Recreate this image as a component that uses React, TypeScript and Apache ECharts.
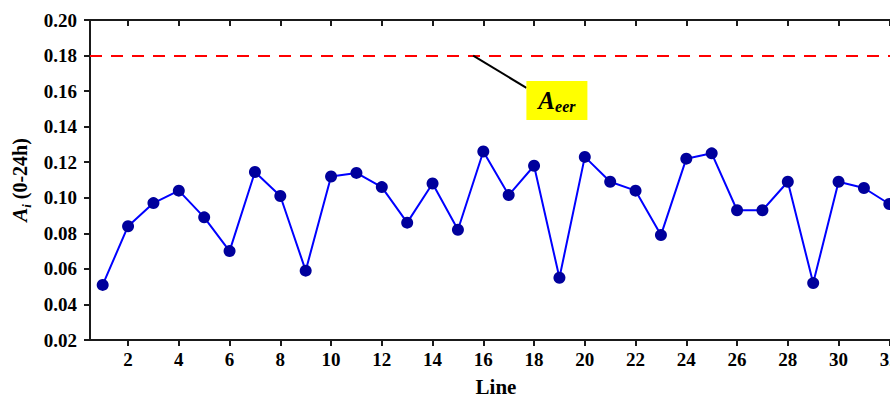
import React, { useEffect, useRef } from "react";
import * as echarts from "echarts";

const lines = [1, 2, 3, 4, 5, 6, 7, 8, 9, 10, 11, 12, 13, 14, 15, 16, 17, 18, 19, 20, 21, 22, 23, 24, 25, 26, 27, 28, 29, 30, 31, 32];
const aValues = [0.051, 0.084, 0.097, 0.104, 0.089, 0.070, 0.1145, 0.101, 0.059, 0.112, 0.114, 0.106, 0.086, 0.108, 0.082, 0.126, 0.1015, 0.118, 0.055, 0.123, 0.109, 0.104, 0.079, 0.122, 0.125, 0.093, 0.093, 0.109, 0.052, 0.109, 0.1055, 0.0965];
const xTicks = [2, 4, 6, 8, 10, 12, 14, 16, 18, 20, 22, 24, 26, 28, 30, 32];
const yTicks = [0.02, 0.04, 0.06, 0.08, 0.1, 0.12, 0.14, 0.16, 0.18, 0.2];
const aEer = 0.18;
const leaderFrom = [15.6, 0.18];
const leaderTo = [17.7, 0.1618];
const boxAt = [18.9, 0.1547];

const FONT = "Liberation Serif";

export default function App() {
  const ref = useRef<HTMLDivElement>(null);
  useEffect(() => {
    const chart = echarts.init(ref.current!, null, { renderer: "svg" });
    const axisColor = "#1a1a1a";
    chart.setOption({
      animation: false,
      backgroundColor: "#ffffff",
      textStyle: { fontFamily: FONT },
      grid: { left: 90, right: -12, top: 20, bottom: 58, containLabel: false, outerBoundsMode: "none" },
      xAxis: [
        {
          type: "value",
          min: 0.5,
          max: 32.5,
          position: "bottom",
          name: "Line",
          nameLocation: "middle",
          nameGap: 36,
          nameTextStyle: { fontFamily: FONT, fontWeight: "bold", fontSize: 21, color: "#000" },
          axisLine: { show: true, onZero: false, lineStyle: { color: axisColor, width: 2 } },
          axisTick: { show: true, inside: false, length: 6, customValues: xTicks, lineStyle: { color: axisColor, width: 2 } },
          axisLabel: { customValues: xTicks, margin: 10, fontFamily: FONT, fontWeight: "bold", fontSize: 19, color: "#000" },
          splitLine: { show: false },
        },
        {
          type: "value",
          min: 0.5,
          max: 32.5,
          position: "top",
          axisLine: { show: true, onZero: false, lineStyle: { color: axisColor, width: 2 } },
          axisTick: { show: true, inside: true, length: 6, customValues: xTicks, lineStyle: { color: axisColor, width: 2 } },
          axisLabel: { show: false },
          splitLine: { show: false },
        },
      ],
      yAxis: {
        type: "value",
        min: 0.02,
        max: 0.2,
        name: "{a|A}{s|i}{b| (0-24h)}",
        nameLocation: "middle",
        nameGap: 54,
        nameTextStyle: {
          fontFamily: FONT,
          fontWeight: "bold",
          fontSize: 20,
          color: "#000",
          rich: {
            a: { fontFamily: FONT, fontStyle: "italic", fontWeight: "bold", fontSize: 21, color: "#000" },
            s: { fontFamily: FONT, fontStyle: "italic", fontWeight: "bold", fontSize: 13, color: "#000", padding: [12, 0, 0, 0] },
            b: { fontFamily: FONT, fontWeight: "bold", fontSize: 20, color: "#000" },
          },
        },
        axisLine: { show: true, onZero: false, lineStyle: { color: axisColor, width: 2 } },
        axisTick: { show: true, inside: false, length: 6, customValues: yTicks, lineStyle: { color: axisColor, width: 2 } },
        axisLabel: {
          customValues: yTicks,
          margin: 13,
          fontFamily: FONT,
          fontWeight: "bold",
          fontSize: 19,
          color: "#000",
          formatter: (v: number) => v.toFixed(2),
        },
        splitLine: { show: false },
      },
      series: [
        {
          type: "line",
          data: lines.map((x, i) => [x, aValues[i]]),
          symbol: "circle",
          symbolSize: 12,
          lineStyle: { color: "#0000ff", width: 2 },
          itemStyle: { color: "#00009c" },
          z: 5,
          markLine: {
            silent: true,
            symbol: ["none", "none"],
            label: { show: false },
            data: [
              { yAxis: aEer, lineStyle: { color: "#ff0000", width: 2, type: [12, 9] } },
              [
                { coord: leaderFrom, lineStyle: { color: "#000", width: 2, type: "solid" } },
                { coord: leaderTo },
              ],
            ],
          },
          markPoint: {
            silent: true,
            symbol: "rect",
            symbolSize: [61, 39],
            itemStyle: { color: "#ffff00" },
            label: {
              show: true,
              position: "inside",
              formatter: "{a|A}{s|eer}",
              rich: {
                a: { fontFamily: FONT, fontStyle: "italic", fontWeight: "bold", fontSize: 25, color: "#000" },
                s: { fontFamily: FONT, fontStyle: "italic", fontWeight: "bold", fontSize: 16, color: "#000", padding: [12, 0, 0, 0] },
              },
            },
            data: [{ coord: boxAt }],
          },
        },
      ],
    });
    return () => chart.dispose();
  }, []);
  return (
    <div
      ref={ref}
      style={{ position: "fixed", left: 0, top: 0, width: 890, height: 398, background: "#fff" }}
    />
  );
}
